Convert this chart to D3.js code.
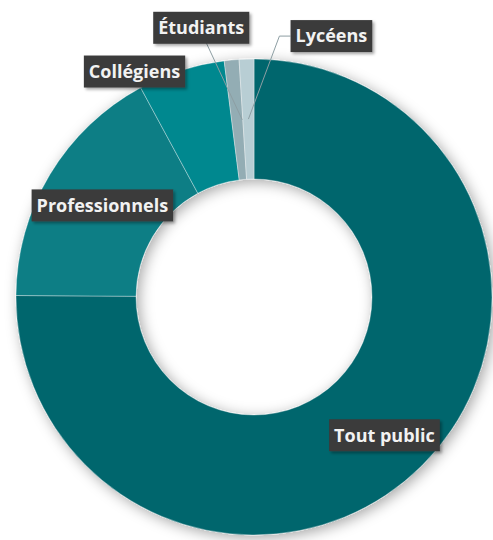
<!DOCTYPE html>
<html>
<head>
<meta charset="utf-8">
<script src="https://cdn.jsdelivr.net/npm/d3@7"></script>
<style>
  body { margin: 0; background: #fff; }
</style>
</head>
<body>
<div id="plot"></div>
<script>
// data (share of the audience, %)
const categories = ["Tout public", "Professionnels", "Collégiens", "Étudiants", "Lycéens"];
const values = [75.1, 17.0, 5.9, 1.0, 1.0];

// colours, in the same order
const colors = ["#04666d", "#0a7e85", "#02888f", "#93adb4", "#b8ced4"];

// label nudges from the middle of each ring slice [dx, dy]
const labelNudge = [[5, 12], [1, 0], [-65, -56], [-36, -92], [83, -83]];

const w = 493, h = 540;
const cx = 254, cy = 297;
const outerR = 238, innerR = 118;

const svg = d3.select("div#plot")
  .append("svg")
    .attr("width", w)
    .attr("height", h);

const defs = svg.append("defs");
const ringShadow = defs.append("filter")
  .attr("id", "ringShadow")
  .attr("x", "-20%").attr("y", "-20%")
  .attr("width", "140%").attr("height", "140%");
ringShadow.append("feDropShadow")
  .attr("dx", 3).attr("dy", 3)
  .attr("stdDeviation", 7)
  .attr("flood-color", "#000")
  .attr("flood-opacity", 0.35);

const boxShadow = defs.append("filter")
  .attr("id", "boxShadow")
  .attr("x", "-20%").attr("y", "-30%")
  .attr("width", "140%").attr("height", "160%");
boxShadow.append("feDropShadow")
  .attr("dx", 2).attr("dy", 2)
  .attr("stdDeviation", 1.5)
  .attr("flood-color", "#000")
  .attr("flood-opacity", 0.35);

const g = svg.append("g")
  .attr("transform", `translate(${cx}, ${cy})`);

const table = categories.map((c, i) => ({cat: c, value: values[i], i: i}));

const pie = d3.pie()
  .sort(null)
  .value(d => d.value);

const arc = d3.arc()
  .innerRadius(innerR)
  .outerRadius(outerR);

const midArc = d3.arc()
  .innerRadius((innerR + outerR) / 2)
  .outerRadius((innerR + outerR) / 2);

const arcs = pie(table);

// ring
g.append("g")
  .attr("filter", "url(#ringShadow)")
  .selectAll("path")
  .data(arcs)
  .enter().append("path")
    .attr("d", arc)
    .attr("fill", d => colors[d.data.i])
    .attr("stroke", "rgba(255,255,255,0.35)")
    .attr("stroke-width", 1);

// label positions
const labelPos = arcs.map(d => {
  const c = midArc.centroid(d);
  const n = labelNudge[d.data.i];
  return {d: d, anchor: c, x: c[0] + n[0], y: c[1] + n[1]};
});

// leader lines for the thin slices
const leaders = g.append("g");
labelPos.forEach(p => {
  const cat = p.d.data.cat;
  if (cat === "Étudiants") {
    leaders.append("polyline")
      .attr("points", `${p.anchor[0] + 5},${p.anchor[1]} ${p.x + 5},${p.y + 15}`)
      .attr("fill", "none")
      .attr("stroke", "#8d9ea3")
      .attr("stroke-width", 1);
  }
  if (cat === "Lycéens") {
    leaders.append("polyline")
      .attr("points", `${p.anchor[0]},${p.anchor[1]} ${p.x - 52},${p.y} ${p.x - 41},${p.y}`)
      .attr("fill", "none")
      .attr("stroke", "#8d9ea3")
      .attr("stroke-width", 1);
  }
});

// label boxes
const labels = g.append("g")
  .selectAll("g")
  .data(labelPos)
  .enter().append("g")
    .attr("transform", p => `translate(${p.x}, ${p.y})`);

const rects = labels.append("rect")
  .attr("fill", "#3b3b3b")
  .attr("filter", "url(#boxShadow)");

const texts = labels.append("text")
  .attr("text-anchor", "middle")
  .attr("dy", "0.35em")
  .style("font-family", "'Open Sans', sans-serif")
  .style("font-weight", "bold")
  .style("font-size", "18px")
  .style("fill", "#f2f2f2")
  .text(p => p.d.data.cat);

texts.each(function(p, i) {
  const tw = this.getComputedTextLength();
  d3.select(rects.nodes()[i])
    .attr("x", -tw / 2 - 5)
    .attr("y", -16)
    .attr("width", tw + 10)
    .attr("height", 32);
});
</script>
</body>
</html>
